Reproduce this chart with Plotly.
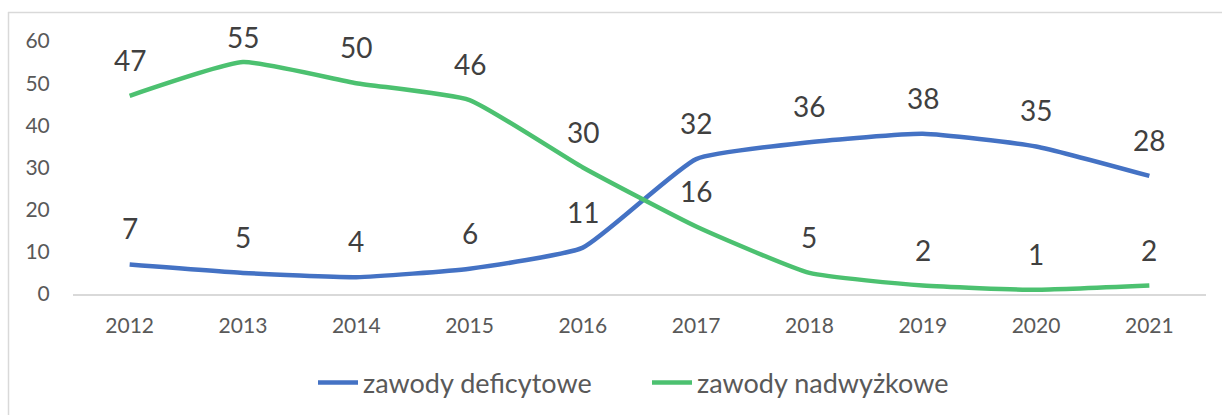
import plotly.graph_objects as go

years = ["2012", "2013", "2014", "2015", "2016", "2017", "2018", "2019", "2020", "2021"]
deficytowe = [7, 5, 4, 6, 11, 32, 36, 38, 35, 28]
nadwyzkowe = [47, 55, 50, 46, 30, 16, 5, 2, 1, 2]
series_names = ["zawody deficytowe", "zawody nadwyżkowe"]
colors = ["#4472C4", "#4CC170"]

W, H = 1222, 415
ML, MR, MT, MB = 73, 16, 41, 121
PW, PH = W - ML - MR, H - MT - MB
YMAX = 60

FONT = "Lato"
xi = list(range(len(years)))

fig = go.Figure()
for name, vals, c in zip(series_names, [deficytowe, nadwyzkowe], colors):
    fig.add_trace(go.Scatter(
        x=xi, y=vals, name=name, mode="lines",
        line=dict(color=c, width=4.5, shape="spline", smoothing=0.45),
        hoverinfo="skip",
    ))

annotations = []
for vals in [deficytowe, nadwyzkowe]:
    for x, v in zip(xi, vals):
        ypix = MT + (YMAX - v) * PH / YMAX
        shift = min(36, ypix - 37)
        annotations.append(dict(
            x=x, y=v, xref="x", yref="y", text=str(v), showarrow=False,
            yshift=shift, font=dict(family=FONT, size=28, color="#404040"),
        ))

def px_to_paper_x(px):
    return (px - ML) / PW

def px_to_paper_y(py):
    return (H - MB - py) / PH

shapes = [
    dict(type="line", xref="paper", yref="paper",
         x0=px_to_paper_x(8), x1=px_to_paper_x(W + 5),
         y0=px_to_paper_y(12.5), y1=px_to_paper_y(12.5),
         line=dict(color="#D9D9D9", width=1.5)),
    dict(type="line", xref="paper", yref="paper",
         x0=px_to_paper_x(8.5), x1=px_to_paper_x(8.5),
         y0=px_to_paper_y(12), y1=px_to_paper_y(H + 5),
         line=dict(color="#D9D9D9", width=1.5)),
]

fig.update_layout(
    width=W, height=H,
    margin=dict(l=ML, r=MR, t=MT, b=MB, autoexpand=False),
    paper_bgcolor="white", plot_bgcolor="white",
    font=dict(family=FONT, color="#595959"),
    showlegend=True,
    legend=dict(orientation="h", x=px_to_paper_x(647), xanchor="center",
                y=px_to_paper_y(383), yanchor="middle",
                font=dict(family=FONT, size=27, color="#595959"),
                entrywidth=279, entrywidthmode="pixels",
                itemwidth=40, tracegroupgap=0),
    xaxis=dict(range=[-0.5, len(years) - 0.5], tickvals=xi, ticktext=years,
               showgrid=False, zeroline=False,
               showline=True, linecolor="#D9D9D9", linewidth=1.5,
               ticks="outside", ticklen=12, tickcolor="rgba(0,0,0,0)",
               tickfont=dict(family=FONT, size=21, color="#595959"),
               fixedrange=True),
    yaxis=dict(range=[0, YMAX], dtick=10, showgrid=False, zeroline=False,
               showline=False, ticks="outside", ticklen=18,
               tickcolor="rgba(0,0,0,0)",
               tickfont=dict(family=FONT, size=21, color="#595959"),
               fixedrange=True),
    annotations=annotations,
    shapes=shapes,
)

fig.write_html("out.html", config={"displayModeBar": False},
               post_script="document.body.style.margin='0';document.body.style.overflow='hidden';")
